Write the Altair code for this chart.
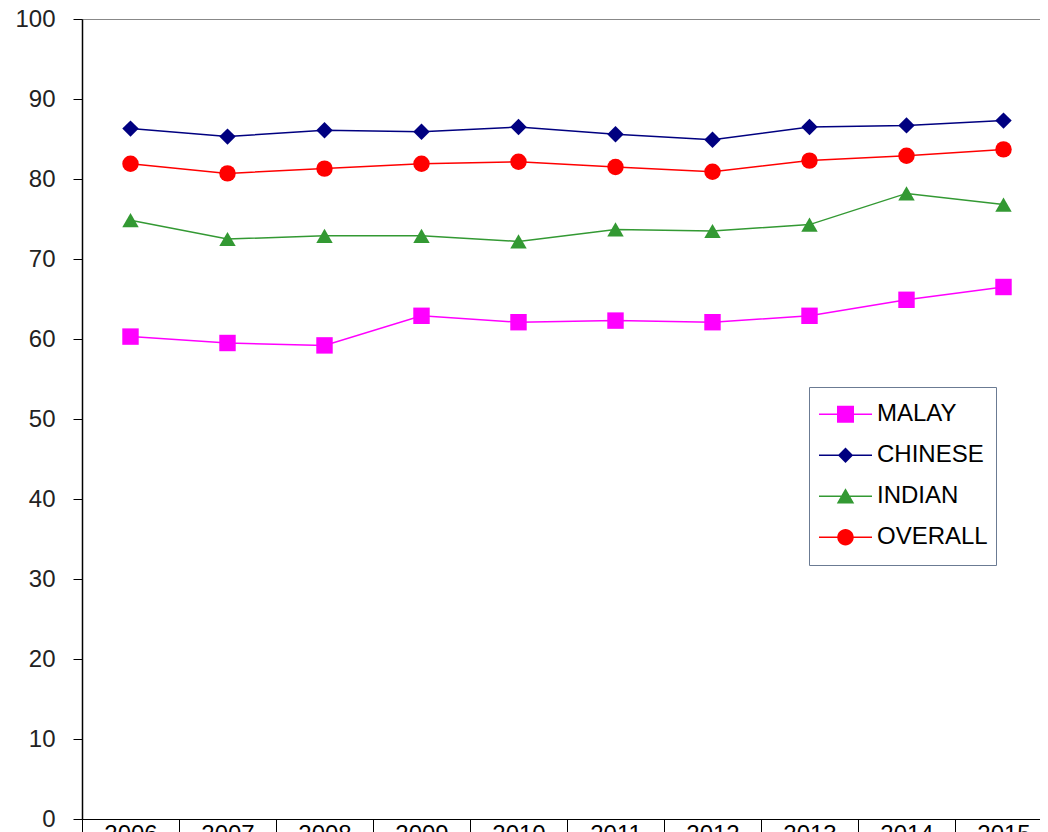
import altair as alt
import pandas as pd

years = ["2006", "2007", "2008", "2009", "2010", "2011", "2012", "2013", "2014", "2015"]
series = ["MALAY", "CHINESE", "INDIAN", "OVERALL"]
malay = [60.3, 59.5, 59.2, 62.9, 62.1, 62.3, 62.1, 62.9, 64.9, 66.5]
chinese = [86.3, 85.3, 86.1, 85.9, 86.5, 85.6, 84.9, 86.5, 86.7, 87.3]
indian = [74.85, 72.5, 72.9, 72.9, 72.2, 73.7, 73.5, 74.3, 78.2, 76.8]
overall = [81.9, 80.7, 81.3, 81.9, 82.15, 81.5, 80.9, 82.3, 82.9, 83.7]
y_ticks = [0, 10, 20, 30, 40, 50, 60, 70, 80, 90, 100]

colors = ["#FF00FF", "#000080", "#339933", "#FF0000"]
marker_shapes = ["square", "diamond", "triangle-up", "circle"]
bar = "M-1,-0.03H1V0.03H-1Z "
legend_shapes = [
    bar + "M-0.32,-0.32H0.32V0.32H-0.32Z",
    bar + "M0,-0.29L0.29,0L0,0.29L-0.29,0Z",
    bar + "M0,-0.3L0.33,0.27L-0.33,0.27Z",
    bar + "M-0.31,0A0.31,0.31 0 1,1 0.31,0A0.31,0.31 0 1,1 -0.31,0Z",
]

rows = []
for name, vals in zip(series, [malay, chinese, indian, overall]):
    for yr, v in zip(years, vals):
        rows.append({"year": yr, "series": name, "value": v})
df = pd.DataFrame(rows)

FONT = "Liberation Sans"

x_enc = alt.X(
    "year:O",
    sort=years,
    scale=alt.Scale(type="band", paddingInner=0, paddingOuter=0),
    axis=alt.Axis(
        title=None, labelAngle=0, tickBand="extent", tickSize=30, tickColor="black",
        tickWidth=1, domainColor="black", domainWidth=1, labelFontSize=24,
        labelFont=FONT, labelColor="black", labelPadding=-27, grid=False,
    ),
)
y_enc = alt.Y(
    "value:Q",
    scale=alt.Scale(domain=[0, 100], nice=False, zero=True),
    axis=alt.Axis(
        title=None, values=y_ticks, tickSize=9, tickColor="black", domainColor="black",
        domainWidth=1.5, labelFontSize=24, labelFont=FONT, labelColor="#222222",
        labelPadding=18, grid=False,
    ),
)

color_scale = alt.Scale(domain=series, range=colors)

lines = alt.Chart(df).mark_line(strokeWidth=1.5).encode(
    x=x_enc, y=y_enc,
    color=alt.Color("series:N", scale=color_scale, legend=None),
    detail="series:N",
)

points = alt.Chart(df).mark_point(filled=True, opacity=1).encode(
    x=x_enc, y=y_enc,
    color=alt.Color("series:N", scale=color_scale, legend=None),
    shape=alt.Shape("series:N", scale=alt.Scale(domain=series, range=marker_shapes), legend=None),
    size=alt.value(270),
)

leg = alt.Legend(
    title=None, orient="none", legendX=727, legendY=368, labelFont=FONT,
    labelFontSize=24, labelColor="black", symbolSize=2809, clipHeight=38.5,
    padding=8, symbolOffset=2, labelOffset=5, strokeColor="#6b7b93",
    fillColor="white", symbolStrokeWidth=0, symbolOpacity=1,
)

legend_layer = alt.Chart(df).transform_filter("false").mark_point(filled=True, opacity=1).encode(
    x=x_enc, y=y_enc,
    color=alt.Color("series:N", scale=alt.Scale(domain=series, range=colors), legend=leg),
    shape=alt.Shape("series:N", scale=alt.Scale(domain=series, range=legend_shapes), legend=leg),
)

chart = (
    alt.layer(lines, points, legend_layer)
    .resolve_scale(color="independent", shape="independent")
    .properties(
        width=970, height=800,
        autosize=alt.AutoSizeParams(type="none"),
        padding={"left": 74, "top": 11, "right": -12, "bottom": 40},
        background="white",
    )
    .configure_view(stroke="#888888", strokeWidth=1)
)

chart.save("out.html", embed_options={"renderer": "svg", "actions": False})
